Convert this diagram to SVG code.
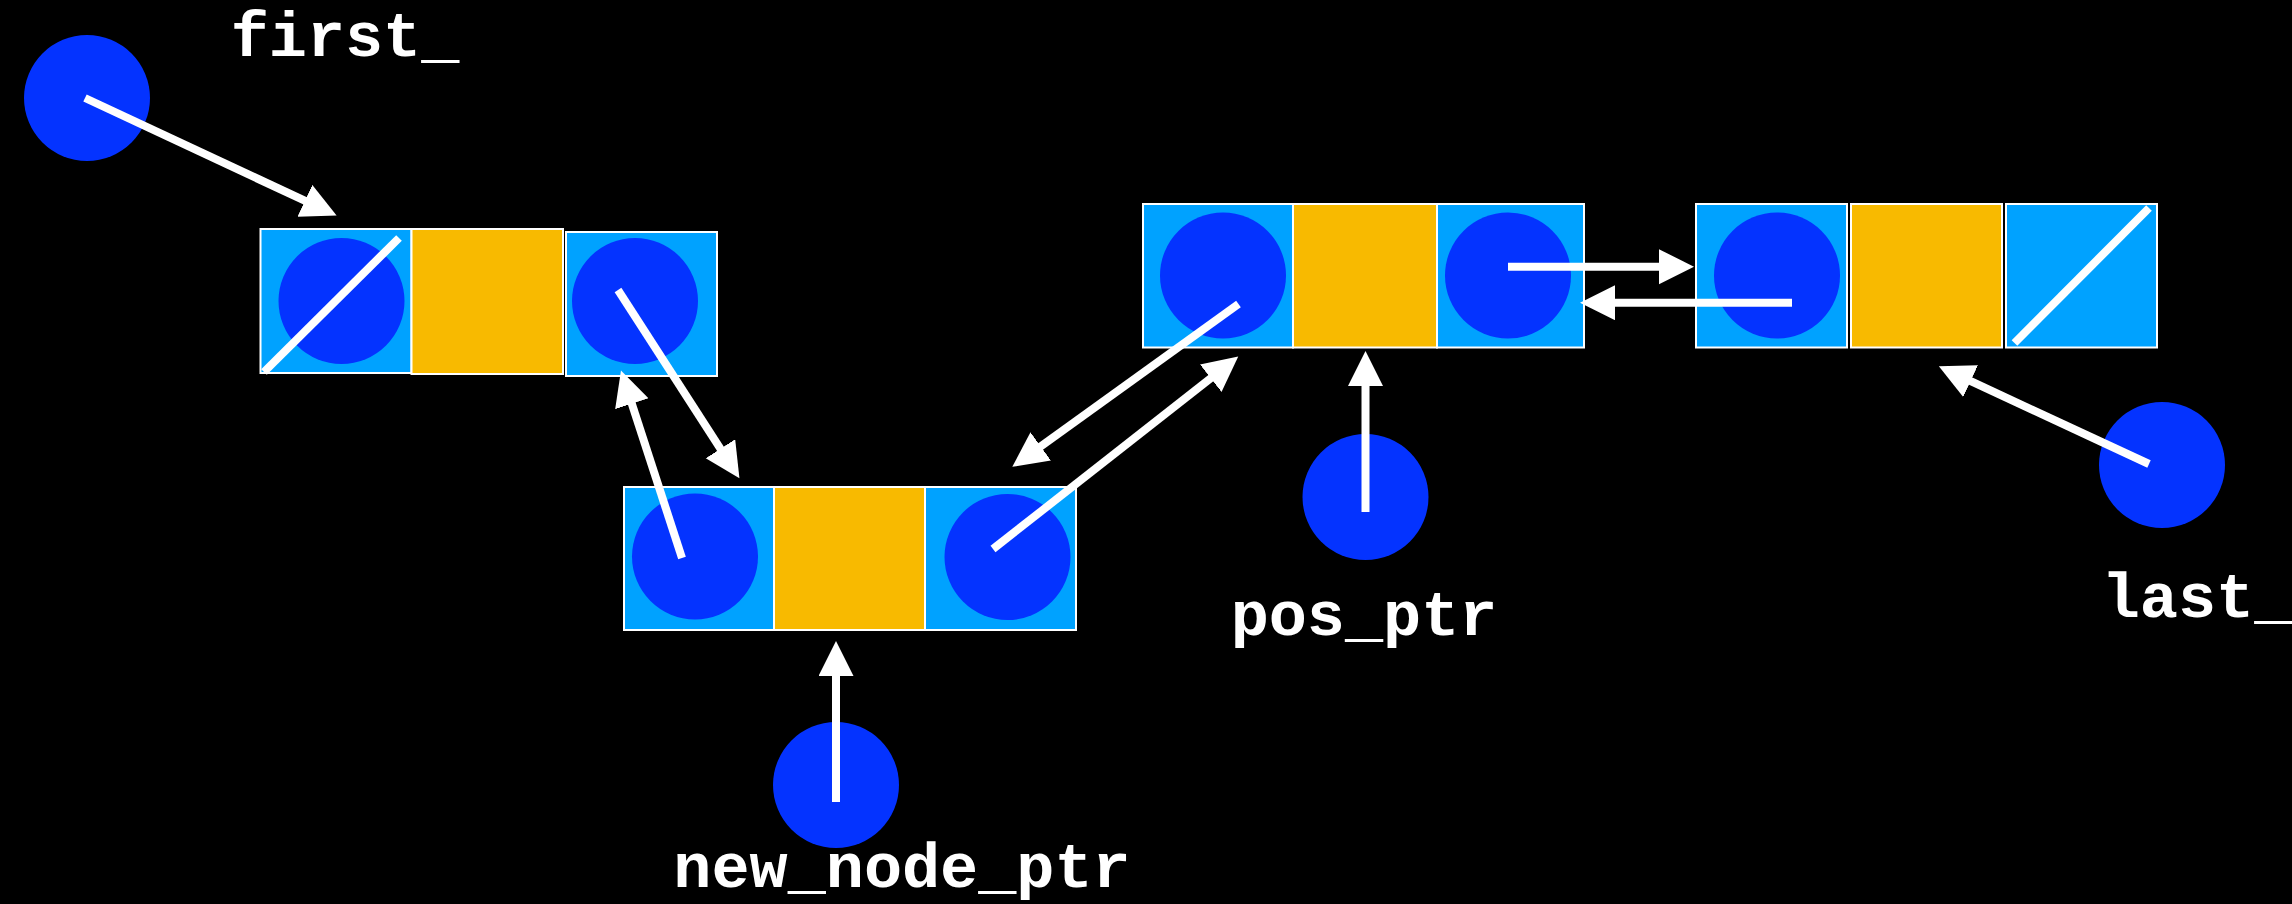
<svg xmlns="http://www.w3.org/2000/svg" width="2292" height="904" viewBox="0 0 2292 904">
  <defs>
    <style>
      .cell { fill: #00A2FF; stroke: #FFFFFF; stroke-width: 2; }
      .data { fill: #F8BA00; stroke: #FFFFFF; stroke-width: 2; }
      .dot { fill: #0433FF; }
      .wire { stroke: #FFFFFF; stroke-width: 8; fill: none; }
      .arrow { stroke: #FFFFFF; stroke-width: 8; fill: none; marker-end: url(#head); }
      .label { fill: #FFFFFF; font-family: "Liberation Mono", "Courier New", monospace; font-weight: bold; font-size: 63.5px; text-anchor: middle; }
    </style>
    <marker id="head" markerUnits="userSpaceOnUse" markerWidth="36" markerHeight="36" viewBox="0 0 36 36" refX="1" refY="17.5" orient="auto">
      <path d="M0,0 L35,17.5 L0,35 Z" fill="#FFFFFF"/>
    </marker>
  </defs>
  <rect x="0" y="0" width="2292" height="904" fill="#000000"/>

  <g id="first_ptr">
    <circle class="dot" cx="87" cy="98" r="63"/>
    <text class="label" x="345" y="56">first_</text>
  </g>

  <g id="node1">
    <rect class="cell" x="260.5" y="229" width="151" height="144"/>
    <rect class="data" x="411.5" y="229" width="151.5" height="145"/>
    <rect class="cell" x="566" y="232" width="151" height="144"/>
    <circle class="dot" cx="341.5" cy="301" r="63"/>
    <circle class="dot" cx="635" cy="301" r="63"/>
    <line class="wire" x1="264" y1="372" x2="399" y2="238"/>
  </g>

  <g id="new_node">
    <rect class="cell" x="624" y="487" width="150" height="143"/>
    <rect class="data" x="774" y="487" width="151" height="143"/>
    <rect class="cell" x="925" y="487" width="151" height="143"/>
    <circle class="dot" cx="695" cy="556.5" r="63"/>
    <circle class="dot" cx="1007.5" cy="557" r="63"/>
  </g>

  <g id="pos_node">
    <rect class="cell" x="1143" y="204" width="150" height="143.5"/>
    <rect class="data" x="1293" y="204" width="144" height="143.5"/>
    <rect class="cell" x="1437" y="204" width="147" height="143.5"/>
    <circle class="dot" cx="1223" cy="275.5" r="63"/>
    <circle class="dot" cx="1508" cy="275.5" r="63"/>
  </g>

  <g id="last_node">
    <rect class="cell" x="1696" y="204" width="151" height="143.5"/>
    <rect class="data" x="1851" y="204" width="151" height="143.5"/>
    <rect class="cell" x="2006" y="204" width="151" height="143.5"/>
    <circle class="dot" cx="1777" cy="275.5" r="63"/>
    <line class="wire" x1="2014.5" y1="343" x2="2149" y2="208"/>
  </g>

  <g id="new_node_ptr">
    <circle class="dot" cx="836" cy="785" r="63"/>
    <text class="label" x="902" y="887">new_node_ptr</text>
  </g>

  <g id="pos_ptr">
    <circle class="dot" cx="1365.5" cy="497" r="63"/>
    <text class="label" x="1364" y="635">pos_ptr</text>
  </g>

  <g id="last_ptr">
    <circle class="dot" cx="2162" cy="465" r="63"/>
    <text class="label" x="2197" y="617">last_</text>
  </g>

  <g id="connectors">
    <line class="arrow" x1="85" y1="98" x2="305.8" y2="201.2"/>
    <line class="arrow" x1="618" y1="290" x2="721" y2="449.6"/>
    <line class="arrow" x1="682" y1="558" x2="631.5" y2="402.8"/>
    <line class="arrow" x1="993" y1="549" x2="1211.5" y2="377.6"/>
    <line class="arrow" x1="1238.5" y1="304" x2="1039.9" y2="447"/>
    <line class="arrow" x1="836" y1="802" x2="836" y2="675"/>
    <line class="arrow" x1="1365.5" y1="512" x2="1365.5" y2="385"/>
    <line class="arrow" x1="1508" y1="266.7" x2="1660" y2="266.7"/>
    <line class="arrow" x1="1792" y1="302.7" x2="1614" y2="302.7"/>
    <line class="arrow" x1="2149" y1="464" x2="1969.7" y2="380.7"/>
  </g>
</svg>
